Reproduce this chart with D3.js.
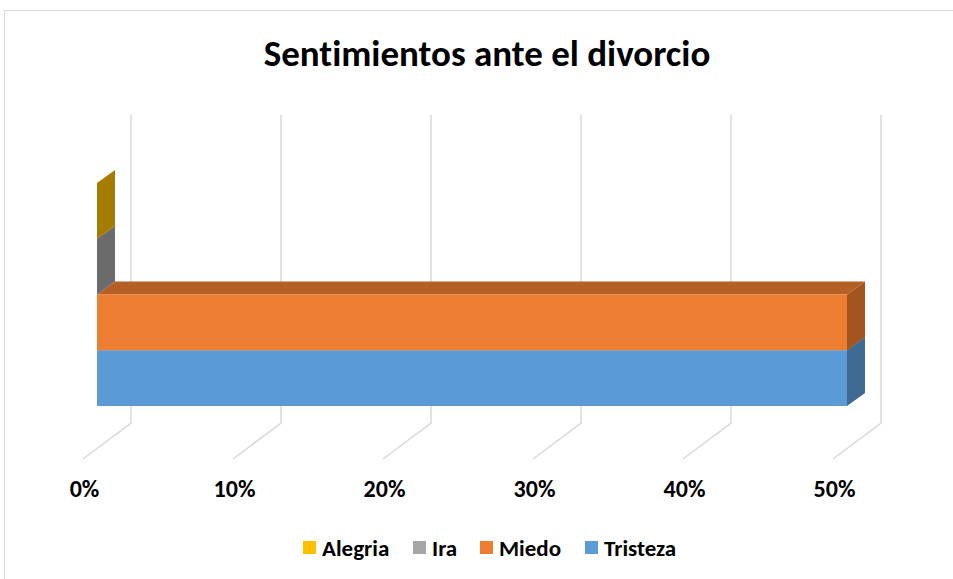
<!DOCTYPE html>
<html><head><meta charset="utf-8">
<script src="https://cdn.jsdelivr.net/npm/d3@7"></script>
<style>body{margin:0;background:#fff}svg{display:block}text{font-variant-ligatures:none}</style>
</head><body>
<svg id="c" width="953" height="579"></svg>
<script>
const title = "Sentimientos ante el divorcio";
const categories = ["Alegria", "Ira", "Miedo", "Tristeza"];
const values = [0, 0, 0.5, 0.5];
const tickValues = [0, 0.1, 0.2, 0.3, 0.4, 0.5];
const colors = ["#FFC000", "#A5A5A5", "#ED7D31", "#5B9BD5"];
const sideColors = ["#A67C00", "#6B6B6B", "#A3541F", "#3E6A93"];
const topColors = ["#C59300", "#7F7F7F", "#B55F25", "#4A7DAB"];

const FONT = "Carlito, Calibri, Lato, sans-serif";
const svg = d3.select("#c");

// chart border
svg.append("rect").attr("x", 4.5).attr("y", 10.5).attr("width", 980).attr("height", 600)
  .attr("fill", "#fff").attr("stroke", "#d9d9d9").attr("stroke-width", 1);

svg.append("text").attr("x", 487).attr("y", 66).attr("text-anchor", "middle")
  .attr("font-family", FONT).attr("font-weight", "bold").attr("font-size", 37)
  .attr("fill", "#000").text(title);

const x = d3.scaleLinear().domain([0, 0.5]).range([97, 847]);
const y = d3.scaleBand().domain(categories).range([183, 406]).paddingInner(0).paddingOuter(0);

// depth geometry
const backDx = 34, frontDx = -14;
const wallTop = 115, wallBottom = 423, floorFront = 459;
const dx = 18, dy = -13;

const grid = svg.append("g").attr("stroke", "#d9d9d9").attr("stroke-width", 1.5).attr("fill", "none");
tickValues.forEach(t => {
  const xb = x(t) + backDx, xf = x(t) + frontDx;
  grid.append("path").attr("d", `M${xb},${wallTop}L${xb},${wallBottom}L${xf},${floorFront}`);
});

const axis = d3.axisBottom(x).tickValues(tickValues).tickFormat(d3.format(".0%")).tickSize(0).tickPadding(0);
const ag = svg.append("g").attr("transform", `translate(${frontDx + 1},497)`).call(axis);
ag.select(".domain").remove();
ag.selectAll("text").attr("dy", 0).attr("y", 0).attr("font-family", FONT).attr("font-weight", "bold").attr("font-size", 24).attr("fill", "#000");

const order = categories.map((c, i) => i).reverse();
const bars = svg.append("g");
order.forEach(i => {
  const c = categories[i], v = values[i];
  const x0 = x(0), x1 = x(v), y0 = y(c), y1 = y(c) + y.bandwidth();
  bars.append("path").attr("fill", sideColors[i])
    .attr("d", `M${x1},${y0}L${x1 + dx},${y0 + dy}L${x1 + dx},${y1 + dy}L${x1},${y1}Z`);
  bars.append("path").attr("fill", topColors[i])
    .attr("d", `M${x0},${y0}L${x0 + dx},${y0 + dy}L${x1 + dx},${y0 + dy}L${x1},${y0}Z`);
  if (v > 0) bars.append("rect").attr("fill", colors[i])
    .attr("x", x0).attr("y", y0).attr("width", x1 - x0).attr("height", y1 - y0);
});

const legend = svg.append("g").attr("font-family", FONT).attr("font-weight", "bold").attr("font-size", 23);
const legX = [303, 413, 480, 585];
categories.forEach((c, i) => {
  const g = legend.append("g").attr("transform", `translate(${legX[i]},541)`);
  g.append("rect").attr("width", 13).attr("height", 13).attr("fill", colors[i]);
  g.append("text").attr("x", 19).attr("y", 14.5).attr("fill", "#000").text(c);
});
</script>
</body></html>
